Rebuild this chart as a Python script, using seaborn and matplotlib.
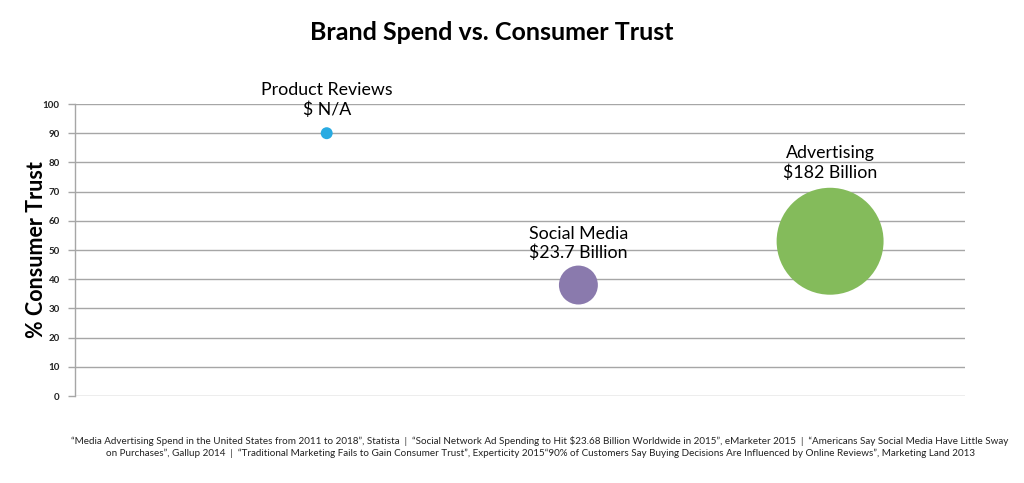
import numpy as np
import pandas as pd
import matplotlib
matplotlib.use("Agg")
import matplotlib.pyplot as plt
import seaborn as sns

# ---- data ----
categories = ["Product Reviews", "Social Media", "Advertising"]
spend_labels = ["$ N/A", "$23.7 Billion", "$182 Billion"]
position = [1, 2, 3]
consumer_trust = [90, 38, 53]
spend_billion = [1.8, 23.7, 182]  # Product Reviews N/A -> drawn as small dot
colors = ["#29ABE2", "#8A7AAD", "#84BB5B"]
yticks = [0, 10, 20, 30, 40, 50, 60, 70, 80, 90, 100]

title = "Brand Spend vs. Consumer Trust"
ylabel = "% Consumer Trust"
footer = ("\u201cMedia Advertising Spend in the United States from 2011 to 2018\u201d, Statista  |  "
          "\u201cSocial Network Ad Spending to Hit $23.68 Billion Worldwide in 2015\u201d, eMarketer 2015  |  "
          "\u201cAmericans Say Social Media Have Little Sway\n"
          "on Purchases\u201d, Gallup 2014  |  \u201cTraditional Marketing Fails to Gain Consumer Trust\u201d, "
          "Experticity 2015\u201c90% of Customers Say Buying Decisions Are Influenced by Online Reviews\u201d, Marketing Land 2013")

df = pd.DataFrame({"category": categories, "x": position, "trust": consumer_trust,
                   "spend": spend_billion, "label": spend_labels})

sns.set_theme(style="white")
plt.rcParams["font.family"] = ["Lato", "DejaVu Sans"]

fig = plt.figure(figsize=(10.24, 4.83), dpi=100)
ax = fig.add_axes([75/1024, (483-396)/483, 890/1024, 292/483])

size_range = (74, 5930)
sns.scatterplot(data=df, x="x", y="trust", hue="category", palette=colors,
                size="spend", sizes=size_range, size_norm=(min(spend_billion), max(spend_billion)),
                linewidth=0, alpha=1, legend=False, ax=ax, zorder=3)

ax.set_xlim(0, 3.536)
ax.set_ylim(0, 100)
ax.set_yticks(yticks)
ax.set_yticklabels([str(t) for t in yticks], fontsize=7, color="#222222", fontweight="bold")
ax.set_xticks([])
ax.set_xlabel("")
ax.set_ylabel(ylabel, fontsize=15.5, fontweight="bold", color="black", labelpad=-3)
ax.yaxis.grid(True, color="#A6A6A6", linewidth=1)
ax.set_axisbelow(True)
for s in ["top", "right", "bottom"]:
    ax.spines[s].set_visible(False)
ax.spines["left"].set_color("#A6A6A6")
ax.spines["left"].set_linewidth(1)
ax.tick_params(axis="y", left=True, length=5, width=1, color="#A6A6A6", pad=6)

# labels above bubbles
smin, smax = min(spend_billion), max(spend_billion)
extra = [4, 0, 2]
for i, row in df.iterrows():
    s = size_range[0] + (row["spend"] - smin) / (smax - smin) * (size_range[1] - size_range[0])
    r = np.sqrt(s) / 2
    ax.annotate(f"{row['category']}\n{row['label']}", xy=(row["x"], row["trust"]),
                xytext=(0, r + 3 + extra[i]), textcoords="offset points",
                ha="center", va="bottom", fontsize=12.8, color="black", linespacing=1.25,
                annotation_clip=False)

fig.text(492/1024, 1 - 33/483, title, ha="center", va="center", fontsize=18,
         fontweight="bold", color="black")
fig.text(540/1024, 1 - 447/483, footer, ha="center", va="center", fontsize=7.15,
         color="#222222", linespacing=1.25)

fig.savefig("out.png", dpi=100)
